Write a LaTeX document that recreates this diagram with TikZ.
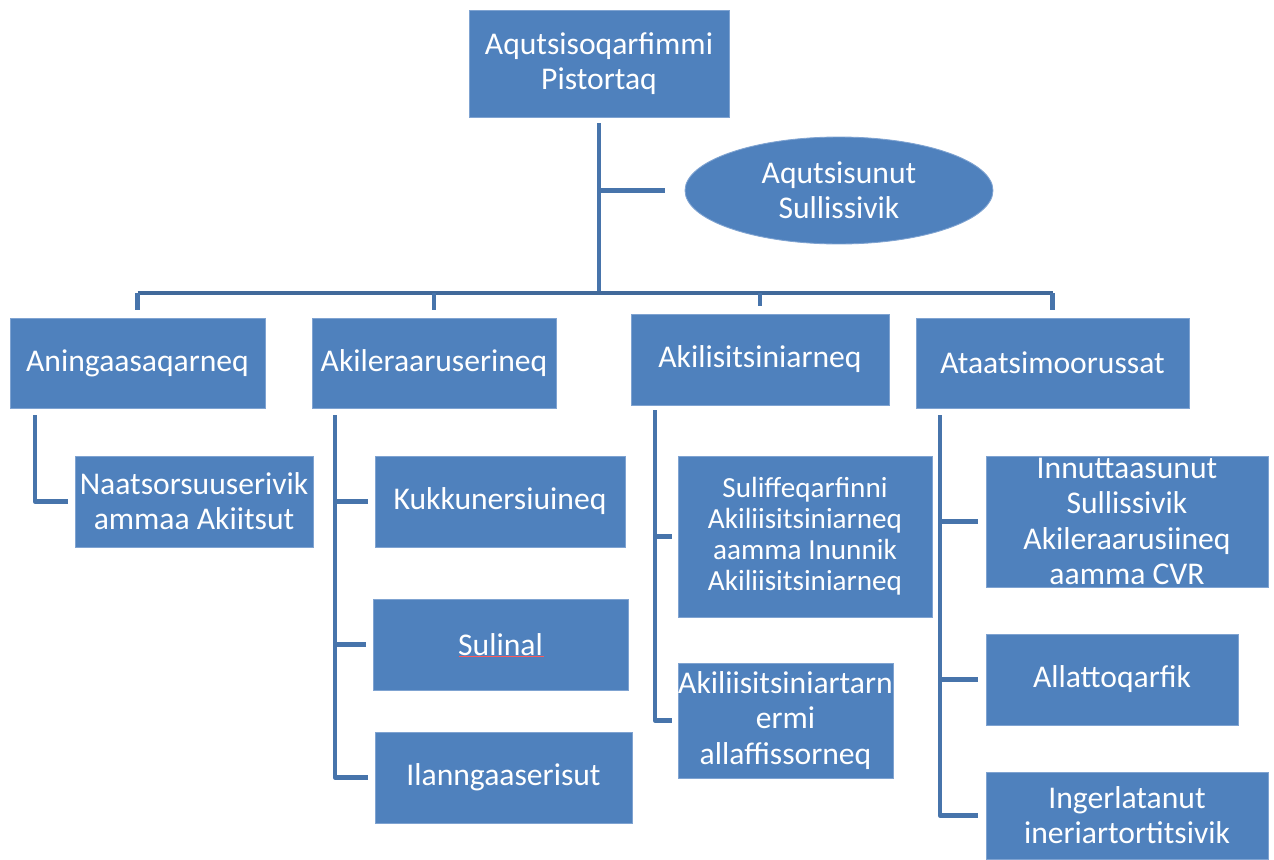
\documentclass[tikz,border=0pt]{standalone}
\usepackage{fontspec}
\setmainfont{Carlito}
\usetikzlibrary{shapes.geometric}

\definecolor{boxblue}{HTML}{4F81BD}
\definecolor{boxedge}{HTML}{7FA3D1}
\definecolor{linkblue}{HTML}{4774AB}
\definecolor{busblue}{HTML}{41699A}

\tikzset{
  box/.style={rectangle,fill=boxblue,draw=boxedge,line width=0.5pt,text=white,align=center,inner sep=0pt,
    font=\fontsize{18}{20}\selectfont},
  oval/.style={box,ellipse},
  link/.style={draw=linkblue,line width=2.7pt,line join=round},
}

\begin{document}
\begin{tikzpicture}[x=0.02cm,y=-0.02cm]
\useasboundingbox (0,0) rectangle (1274,859);

% top
\node[box,minimum width=5.2cm,minimum height=2.14cm] (root) at (599,63.5) {Aqutsisoqarfimmi\\Pistortaq};
\node[oval,minimum width=6.16cm,minimum height=2.14cm] (ell) at (839,190.5) {Aqutsisunut\\Sullissivik};

% level 1
\node[box,minimum width=5.1cm,minimum height=1.8cm] (ani) at (137.5,363) {Aningaasaqarneq};
\node[box,minimum width=4.88cm,minimum height=1.8cm] (akl) at (434,363) {Akileraaruserineq};
\node[box,minimum width=5.16cm,minimum height=1.82cm] (aks) at (760,359.5) {Akilisitsiniarneq};
\node[box,minimum width=5.46cm,minimum height=1.8cm] (ata) at (1052.5,363) {Ataatsimoorussat};

% level 2
\node[box,minimum width=4.76cm,minimum height=1.82cm] (naa) at (194,501.5) {Naatsorsuuserivik\\ammaa Akiitsut};
\node[box,minimum width=5cm,minimum height=1.82cm] (kuk) at (500,501.5) {Kukkunersiuineq};
\node[box,minimum width=5.1cm,minimum height=1.82cm] (sul) at (500.5,644.5) {Sulinal};
\node[box,minimum width=5.14cm,minimum height=1.82cm] (ila) at (503.5,777.5) {Ilanngaaserisut};
\node[box,minimum width=5.08cm,minimum height=3.22cm,font=\fontsize{16.6}{17.6}\selectfont] (suf) at (805,536.5)
  {Suliffeqarfinni\\Akiliisitsiniarneq\\aamma Inunnik\\Akiliisitsiniarneq};
\node[box,minimum width=4.3cm,minimum height=2.3cm] (akt) at (785.5,720.5) {Akiliisitsiniartarn\\ermi\\allaffissorneq};
\node[box,minimum width=5.64cm,minimum height=2.62cm] (inn) at (1127,521.5) {Innuttaasunut\\Sullissivik\\Akileraarusiineq\\aamma CVR};
\node[box,minimum width=5.04cm,minimum height=1.82cm] (all) at (1112,679.5) {Allattoqarfik};
\node[box,minimum width=5.64cm,minimum height=1.74cm] (ing) at (1127,815.5) {Ingerlatanut\\ineriartortitsivik};

% spell check mark
\draw[red!65,line width=0.5pt] ([shift={(-42,12)}]sul.center) -- ([shift={(43,12)}]sul.center);

% trunk and bus
\coordinate (bus) at (600,293);
\draw[link,shorten <=0.12cm] (root.south) -- (root.south |- bus);
\draw[link,shorten >=0.4cm] (ell.west -| root.south) -- (ell.west);
\draw[link,draw=busblue] (ani.north |- bus) -- (ata.north |- bus);
\foreach \n in {ani,akl,aks,ata}
  \draw[link,shorten >=0.16cm] (\n.north |- bus) -- (\n.north);

% spines
\coordinate (s1) at (35,415);
\coordinate (s2) at (335,415);
\coordinate (s3) at (655,410);
\coordinate (s4) at (940,415);
\draw[link,shorten >=0.14cm] (s1) |- (naa.west);
\foreach \c in {kuk,sul,ila}
  \draw[link,shorten >=0.14cm] (s2) |- (\c.west);
\foreach \c in {suf,akt}
  \draw[link,shorten >=0.12cm] (s3) |- (\c.west);
\foreach \c in {inn,all,ing}
  \draw[link,shorten >=0.16cm] (s4) |- (\c.west);

\end{tikzpicture}
\end{document}
